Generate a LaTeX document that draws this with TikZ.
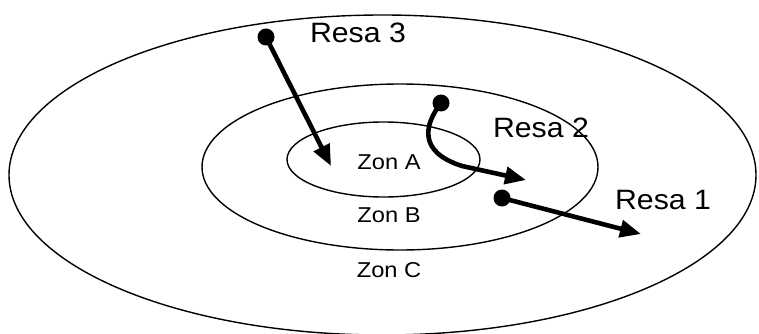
\documentclass[tikz,border=0pt]{standalone}
\usepackage{fontspec}
\setmainfont{Liberation Sans}
\usetikzlibrary{arrows.meta}
\tikzset{
  zone/.style={draw=black, line width=1.4pt},
  move/.style={line width=4.6pt, -{Triangle[length=21pt,width=17pt]}},
  dotnode/.style={circle, fill=black, inner sep=0pt, minimum size=17pt},
  zonlabel/.style={font=\fontsize{21.5}{24}\selectfont, inner sep=0pt},
  resalabel/.style={font=\fontsize{28}{31}\selectfont, inner sep=0pt}
}
\begin{document}
\begin{tikzpicture}[x=1pt,y=-1pt]
\useasboundingbox (0,0) rectangle (759,334);
% zones
\draw[zone] (382.5,175) ellipse [x radius=373.5, y radius=160];
\draw[zone] (400,167) ellipse [x radius=198, y radius=83];
\draw[zone] (383.5,159.5) ellipse [x radius=96.5, y radius=37.5];
% labels
\node[zonlabel] (za) at (389,162) {\scalebox{1.1}[1]{Zon A}};
\node[zonlabel] (zb) at (389,215) {\scalebox{1.1}[1]{Zon B}};
\node[zonlabel] (zc) at (389,270) {\scalebox{1.1}[1]{Zon C}};
\node[resalabel] (r3) at (358,33) {\scalebox{1.08}[1]{Resa 3}};
\node[resalabel] (r2) at (541,128) {\scalebox{1.08}[1]{Resa 2}};
\node[resalabel] (r1) at (663,200) {\scalebox{1.08}[1]{Resa 1}};
% start dots
\node[dotnode] (d3) at (266,37) {};
\node[dotnode] (d2) at (441,103) {};
\node[dotnode] (d1) at (502,198) {};
% arrow ends
\coordinate (t3) at (331,166);
\coordinate (t2) at (526,180);
\coordinate (t1) at (641,234);
% moves
\draw[move] (d3.center) -- (t3);
\draw[move] (d2.center) .. controls (424,125) and (418,152) .. (462,166) -- (t2);
\draw[move] (d1.center) -- (t1);
\end{tikzpicture}
\end{document}
